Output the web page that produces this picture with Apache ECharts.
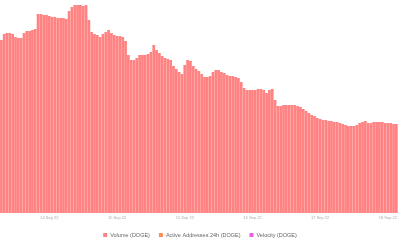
<!DOCTYPE html>
<html><head><meta charset="utf-8">
<script src="https://cdn.jsdelivr.net/npm/echarts@6/dist/echarts.min.js"></script>
<style>html,body{margin:0;padding:0;background:#fff}#c{width:400px;height:240px}</style>
</head><body><div id="c"></div>
<script>
const volume = [173,179,180,180,179,176,175,175,180,182,182,183,184,199,199,198,198,197,196,196,195,195,195,194,202,206,208,208,208,207,208,193,181,179,178,176,179,181,183,180,178,177,177,176,172,158,153,153,155,158,158,158,159,161,168,163,160,157,155,154,153,147,144,141,139,148,153,152,147,144,142,139,136,136,137,141,143,143,141,140,138,137,137,136,135,131,125,123,123,123,123,124,124,123,120,123,124,113,107,107,108,108,108,108,108,107,106,104,102,100,98,97,95,94,93,93,92,92,91,91,90,89,88,87,87,87,88,90,91,92,90,90,91,91,91,91,90,90,90,89,89];
const activeAddresses = [];
const velocity = [];
const tickIndex = [17,41,65,89,113,137];
const tickLabels = ['14 Sep 22','15 Sep 22','15 Sep 22','16 Sep 22','17 Sep 22','18 Sep 22'];
const categories = volume.map((v,i)=>'h'+i);
const seriesNames = ['Volume (DOGE)','Active Addresses 24h (DOGE)','Velocity (DOGE)'];

const chart = echarts.init(document.getElementById('c'));
chart.setOption({
  animation:false,
  grid:{left:0,right:0,top:0,bottom:27},
  legend:{top:227,left:'center',icon:'rect',itemWidth:4,itemHeight:4,itemGap:9,
    textStyle:{fontSize:5.5,color:'#666',fontFamily:'Liberation Sans',padding:[0,0,0,-2]},
    data:seriesNames},
  xAxis:{type:'category',data:categories,
    axisLine:{show:false},axisTick:{show:false},splitLine:{show:false},
    axisLabel:{fontSize:4,color:'#aaa',margin:3,fontFamily:'Liberation Sans',
      interval:(i)=>tickIndex.indexOf(i)>=0,
      formatter:(v,i)=>{const k=tickIndex.indexOf(i);return k>=0?tickLabels[k]:'';}}},
  yAxis:{type:'value',min:0,max:213,show:false},
  series:[
    {name:seriesNames[0],type:'bar',data:volume,barCategoryGap:'3%',itemStyle:{color:'#ff8383'}},
    {name:seriesNames[1],type:'line',data:activeAddresses,itemStyle:{color:'#ff8c50'}},
    {name:seriesNames[2],type:'line',data:velocity,itemStyle:{color:'#e860e8'}}
  ]
});
</script></body></html>
